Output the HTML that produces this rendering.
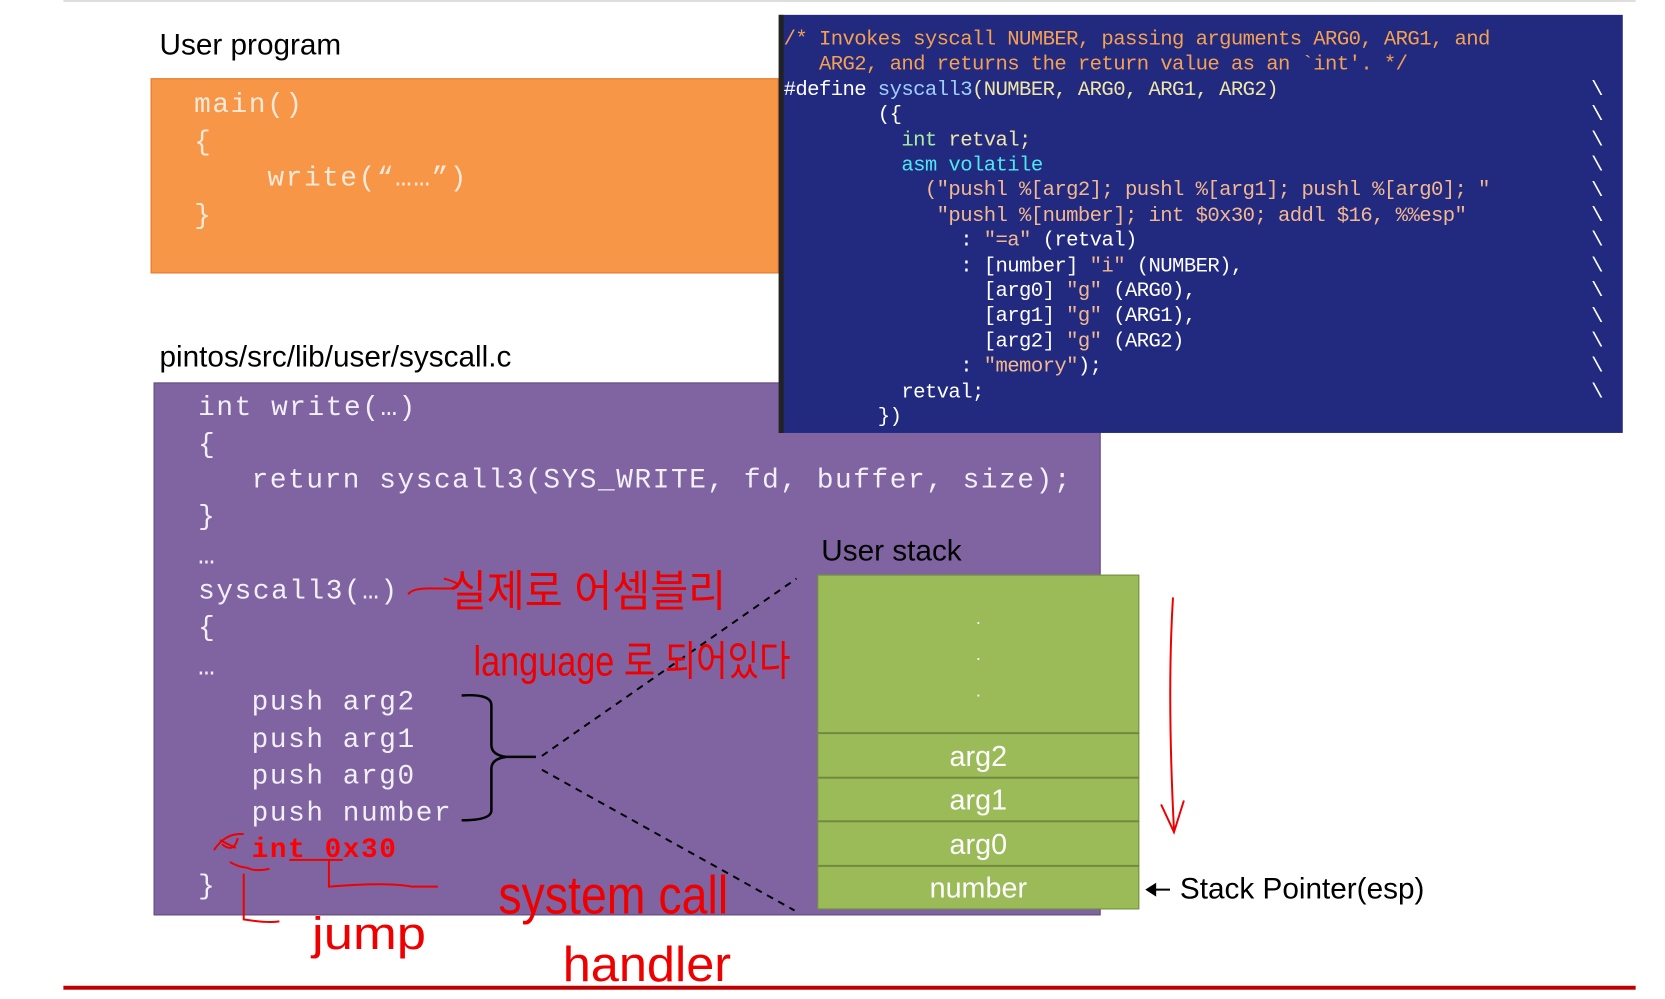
<!DOCTYPE html>
<html><head><meta charset="utf-8"><style>
body{margin:0;width:1665px;height:999px;position:relative;background:#fff;overflow:hidden;font-family:"Liberation Sans","Noto Sans CJK KR",sans-serif}
#w{position:absolute;left:0;top:0;width:1681px;height:1008px;transform:scale(0.9907);transform-origin:0 0}
.a{position:absolute;white-space:pre}
.lbl{font-size:30px;color:#000;line-height:1}
.code{font-family:"Liberation Mono",monospace;font-size:28px;letter-spacing:1.6px;line-height:1}
.bl{font-family:"Liberation Mono",monospace;font-size:20.8px;letter-spacing:-0.6px;line-height:25.4px;color:#fff}
.o{color:#f5a052}.y{color:#f0e6a8}.g{color:#a8f0a0}.c{color:#4fe8f0}.s{color:#f4b890}.lb{color:#9fd0ff}
.st{font-size:29px;color:#fff;text-align:center;width:325px;left:825px;line-height:1}
</style></head><body><div id="w">
<div class="a" style="left:64px;top:0;width:1587px;height:2px;background:#ddd"></div>
<div class="a lbl" style="left:161px;top:31px">User program</div>
<div class="a" style="left:152px;top:79px;width:632px;height:195px;background:#f79646;border:1px solid #e5742a"></div>
<div class="a code" style="left:196px;top:93px;color:#fde9d9">main()</div>
<div class="a code" style="left:196px;top:131px;color:#fde9d9">{</div>
<div class="a code" style="left:270px;top:167px;color:#fde9d9">write(“……”)</div>
<div class="a code" style="left:196px;top:205px;color:#fde9d9">}</div>
<div class="a lbl" style="left:161px;top:346px">pintos/src/lib/user/syscall.c</div>
<div class="a" style="left:155px;top:386px;width:954px;height:536px;background:#8064a2;border:1px solid #5f497a"></div>
<div class="a code" style="color:#f2eff7;left:200px;top:399px">int write(…)</div>
<div class="a code" style="color:#f2eff7;left:200px;top:436px">{</div>
<div class="a code" style="color:#f2eff7;left:254px;top:472px">return syscall3(SYS_WRITE, fd, buffer, size);</div>
<div class="a code" style="color:#f2eff7;left:200px;top:509px">}</div>
<div class="a code" style="color:#f2eff7;left:200px;top:549px">…</div>
<div class="a code" style="color:#f2eff7;left:200px;top:584px">syscall3(…)</div>
<div class="a code" style="color:#f2eff7;left:200px;top:621px">{</div>
<div class="a code" style="color:#f2eff7;left:200px;top:661px">…</div>
<div class="a code" style="color:#f2eff7;left:254px;top:696px">push arg2</div>
<div class="a code" style="color:#f2eff7;left:254px;top:734px">push arg1</div>
<div class="a code" style="color:#f2eff7;left:254px;top:771px">push arg0</div>
<div class="a code" style="color:#f2eff7;left:254px;top:808px">push number</div>
<div class="a code" style="color:#f00;font-weight:bold;left:254px;top:845px">int 0x30</div>
<div class="a code" style="color:#f2eff7;left:200px;top:882px">}</div>

<div class="a" style="left:786px;top:15px;width:847px;height:422px;background:#212a7f;border-left:5px solid #222"></div>
<div class="a bl" style="left:791px;top:28px"><span class="o">/* Invokes syscall NUMBER, passing arguments ARG0, ARG1, and</span>
<span class="o">   ARG2, and returns the return value as an `int'. */</span>
#define <span class="lb">syscall3</span><span class="y">(NUMBER, ARG0, ARG1, ARG2)</span>
        ({
          <span class="g">int</span> <span class="y">retval;</span>
          <span class="c">asm volatile</span>
            <span class="s">("pushl %[arg2]; pushl %[arg1]; pushl %[arg0]; "</span>
             <span class="s">"pushl %[number]; int $0x30; addl $16, %%esp"</span>
               : <span class="s">"=a"</span> (retval)
               : [number] <span class="s">"i"</span> (NUMBER),
                 [arg0] <span class="s">"g"</span> (ARG0),
                 [arg1] <span class="s">"g"</span> (ARG1),
                 [arg2] <span class="s">"g"</span> (ARG2)
               : <span class="s">"memory"</span>);
          retval;
        })</div>
<div class="a bl" style="left:1606px;top:79px">\
\
\
\
\
\
\
\
\
\
\
\
\</div>

<div class="a lbl" style="left:829px;top:542px">User stack</div>
<div class="a" style="left:825px;top:580px;width:323px;height:336px;background:#9bbb59;border:1px solid #71893f"></div>
<div class="a" style="left:825px;top:739px;width:325px;height:2px;background:#71893f"></div>
<div class="a" style="left:825px;top:784px;width:325px;height:2px;background:#71893f"></div>
<div class="a" style="left:825px;top:828px;width:325px;height:2px;background:#71893f"></div>
<div class="a" style="left:825px;top:873px;width:325px;height:2px;background:#71893f"></div>
<div class="a st" style="top:615px;font-size:18px">.</div>
<div class="a st" style="top:651px;font-size:18px">.</div>
<div class="a st" style="top:688px;font-size:18px">.</div>
<div class="a st" style="top:750px">arg2</div>
<div class="a st" style="top:794px">arg1</div>
<div class="a st" style="top:839px">arg0</div>
<div class="a st" style="top:883px">number</div>
<div class="a lbl" style="left:1191px;top:883px">Stack Pointer(esp)</div>

<svg class="a" style="left:0;top:0" width="1681" height="1008">
<path d="M1158 898 L1181 898" stroke="#000" stroke-width="2"/>
<path d="M1156 898 L1167 891 L1167 905 Z" fill="#000"/>
<path d="M466 702 Q496 700 496 712 L496 752 Q496 762 511 764 L541 764 M511 764 Q496 766 496 776 L496 818 Q496 828 466 828" fill="none" stroke="#000" stroke-width="2.5"/>
<path d="M547 763 L804 584 M547 777 L802 919" stroke="#000" stroke-width="2" stroke-dasharray="7,6" fill="none"/>
<rect x="64" y="995" width="1587" height="4" fill="#c00000"/>
<g stroke="#e00" stroke-width="2" fill="none">
<path d="M412 600 Q416 593 440 594 L458 594 Q470 590 448 584"/>
<path d="M1184 603 Q1178 700 1185 838 M1172 812 L1185 840 L1195 808"/>
<path d="M222 848 L238 856 M216 858 Q228 840 246 842 M224 852 Q236 862 240 846"/>
<path d="M232 870 Q240 875 250 876 Q256 880 272 877"/>
<path d="M292 868 L346 868 M332 868 L332 895 Q390 890 416 895 L442 895"/>
<path d="M246 882 L246 928 Q270 932 282 930"/>
</g>
<g fill="#e00" font-family="'Liberation Sans','Noto Sans CJK KR',sans-serif">
<text x="453" y="612" font-size="44" textLength="280" lengthAdjust="spacingAndGlyphs">실제로 어셈블리</text>
<text x="478" y="682" font-size="42" textLength="320" lengthAdjust="spacingAndGlyphs">language 로 되어있다</text>
<text x="503" y="922" font-size="54" textLength="232" lengthAdjust="spacingAndGlyphs">system call</text>
<text x="568" y="990" font-size="50" textLength="170" lengthAdjust="spacingAndGlyphs">handler</text>
<text x="315" y="958" font-size="46" textLength="115" lengthAdjust="spacingAndGlyphs">jump</text>
</g>
</svg>
</div></body></html>
